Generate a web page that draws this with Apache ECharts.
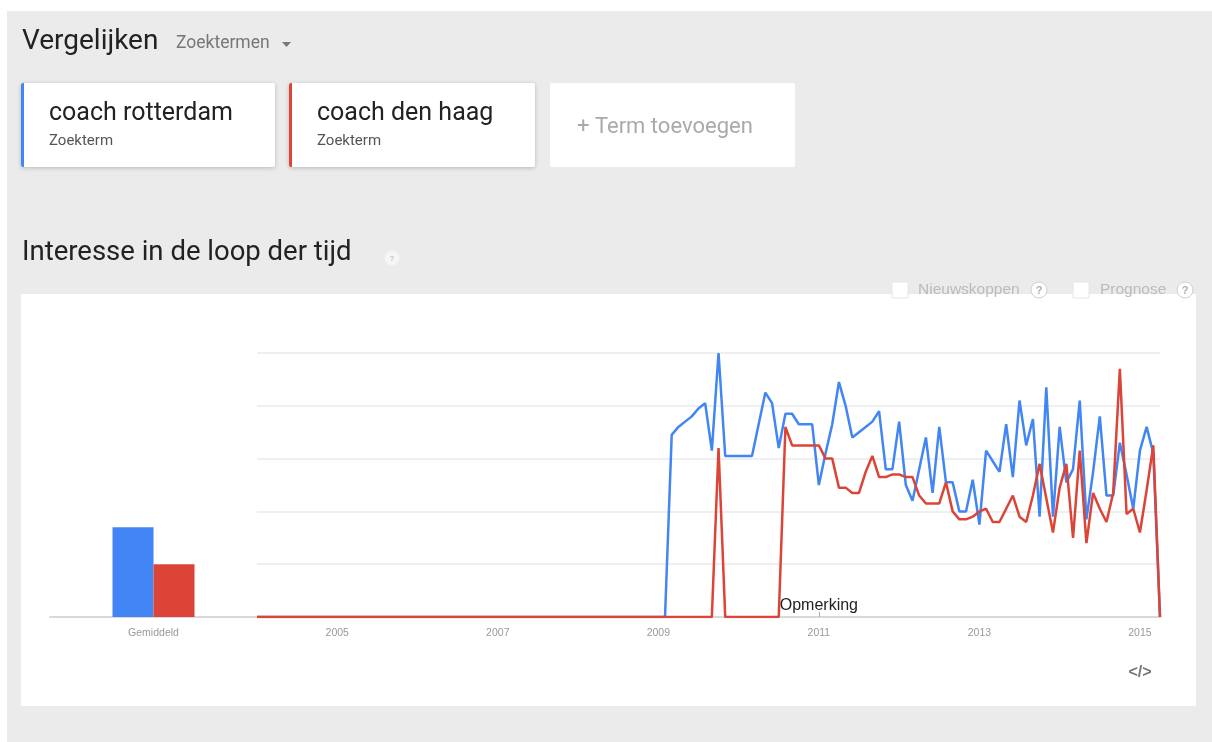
<!DOCTYPE html>
<html>
<head>
<meta charset="utf-8">
<script src="https://cdn.jsdelivr.net/npm/echarts@6/dist/echarts.min.js"></script>
<style>
  html, body { margin: 0; padding: 0; background: #fff; }
  #chart { width: 1212px; height: 742px; }
</style>
</head>
<body>
<div id="chart"></div>
<script>
// monthly interest, Jan 2004 .. Apr 2015
const startYear = 2004;
const yearLabels = ['2005', '2007', '2009', '2011', '2013', '2015'];
const noteMonth = '2011-01';
const noteText = 'Opmerking';

const termNames = ['coach rotterdam', 'coach den haag'];
const avgCategory = ['Gemiddeld'];
const avgRotterdam = [34];
const avgDenHaag = [20];

const rotterdam = [
  0, 0, 0, 0, 0, 0, 0, 0, 0, 0, 0, 0,
  0, 0, 0, 0, 0, 0, 0, 0, 0, 0, 0, 0,
  0, 0, 0, 0, 0, 0, 0, 0, 0, 0, 0, 0,
  0, 0, 0, 0, 0, 0, 0, 0, 0, 0, 0, 0,
  0, 0, 0, 0, 0, 0, 0, 0, 0, 0, 0, 0,
  0, 0, 69, 72, 74, 76, 79, 81, 63, 100, 61, 61,
  61, 61, 61, 73, 85, 81, 64, 77, 77, 73, 73, 73,
  50, 62, 73, 89, 80, 68, 70, 72, 74, 78, 56, 56,
  74, 50, 44, 56, 68, 47, 72, 51, 51, 40, 40, 52,
  35, 63, 59, 55, 73, 53, 82, 65, 75, 38, 87, 38,
  72, 51, 56, 82, 37, 55, 76, 46, 46, 66, 54, 41,
  63, 72, 62, 0
];

const denHaag = [
  0, 0, 0, 0, 0, 0, 0, 0, 0, 0, 0, 0,
  0, 0, 0, 0, 0, 0, 0, 0, 0, 0, 0, 0,
  0, 0, 0, 0, 0, 0, 0, 0, 0, 0, 0, 0,
  0, 0, 0, 0, 0, 0, 0, 0, 0, 0, 0, 0,
  0, 0, 0, 0, 0, 0, 0, 0, 0, 0, 0, 0,
  0, 0, 0, 0, 0, 0, 0, 0, 0, 64, 0, 0,
  0, 0, 0, 0, 0, 0, 0, 72, 65, 65, 65, 65,
  65, 60, 60, 49, 49, 47, 47, 55, 61, 53, 53, 54,
  54, 53, 53, 46, 43, 43, 43, 51, 40, 37, 37, 38,
  40, 41, 36, 36, 41, 46, 38, 36, 46, 58, 45, 32,
  49, 58, 30, 63, 28, 47, 41, 36, 47, 94, 39, 41,
  32, 48, 65, 0
];

const months = [];
for (let i = 0; i < rotterdam.length; i++) {
  const y = startYear + Math.floor(i / 12);
  months.push(y + '-' + String((i % 12) + 1).padStart(2, '0'));
}

const BLUE = '#4285f4';
const RED = '#db4437';
const UI_FONT = 'Roboto, "Noto Sans", sans-serif';
const AXIS_FONT = 'Arial, "Liberation Sans", sans-serif';

function txt(text, x, y, size, color, extra) {
  return {
    type: 'text', z: 50,
    style: Object.assign({
      text: text, x: x, y: y,
      font: size + 'px ' + UI_FONT,
      fill: color,
      textAlign: 'left', textVerticalAlign: 'middle', verticalAlign: 'middle'
    }, extra || {})
  };
}

function card(x, w, stripe, shadow) {
  const items = [{
    type: 'rect', z: -5,
    shape: { x: x, y: 83, width: w, height: 84, r: 2 },
    style: shadow
      ? { fill: '#fff', shadowBlur: 4, shadowColor: 'rgba(0,0,0,0.22)', shadowOffsetY: 1 }
      : { fill: '#fff' }
  }];
  if (stripe) {
    items.push({
      type: 'rect', z: -4,
      shape: { x: x, y: 83, width: 3, height: 84, r: [2, 0, 0, 2] },
      style: { fill: stripe }
    });
  }
  return items;
}

function help(cx, cy, r, fill, stroke, qColor, size) {
  return [
    { type: 'circle', z: 40, shape: { cx: cx, cy: cy, r: r },
      style: { fill: fill, stroke: stroke, lineWidth: 1 } },
    txt('?', cx, cy + 0.5, size, qColor,
      { textAlign: 'center', font: 'bold ' + size + 'px ' + AXIS_FONT })
  ];
}

const graphics = [].concat(
  [
    { type: 'rect', z: -20, shape: { x: 7, y: 11, width: 1205, height: 731 }, style: { fill: '#ebebeb' } },
    { type: 'rect', z: -10, shape: { x: 21, y: 294, width: 1175, height: 412 }, style: { fill: '#fff' } }
  ],
  txt('Vergelijken', 22, 42, 28, '#222'),
  txt('Zoektermen', 176, 44, 17.5, '#777'),
  { type: 'polygon', z: 50, shape: { points: [[282, 42], [291, 42], [286.5, 47]] }, style: { fill: '#777' } },
  card(21, 254, BLUE, true),
  card(289, 246, RED, true),
  card(550, 245, null, false),
  txt(termNames[0], 49, 114, 25, '#222'),
  txt('Zoekterm', 49, 141, 15, '#555'),
  txt(termNames[1], 317, 114, 25, '#222'),
  txt('Zoekterm', 317, 141, 15, '#555'),
  txt('+ Term toevoegen', 577, 127, 22, '#aaa'),
  txt('Interesse in de loop der tijd', 22, 253, 27.5, '#222'),
  help(392, 258, 7, '#f6f6f6', '#f6f6f6', '#c4c4c4', 8),
  { type: 'rect', z: 40, shape: { x: 892, y: 282, width: 16, height: 16 }, style: { fill: '#fff', stroke: '#e6e6e6', lineWidth: 1 } },
  txt('Nieuwskoppen', 918, 290, 15.5, '#bbb', { font: '15.5px ' + AXIS_FONT }),
  help(1039, 290, 8, '#fff', '#d0d0d0', '#b0b0b0', 11),
  { type: 'rect', z: 40, shape: { x: 1073, y: 282, width: 16, height: 16 }, style: { fill: '#fff', stroke: '#e6e6e6', lineWidth: 1 } },
  txt('Prognose', 1100, 290, 15.5, '#bbb', { font: '15.5px ' + AXIS_FONT }),
  help(1185, 290, 8, '#fff', '#d0d0d0', '#b0b0b0', 11),
  txt('</>', 1140, 673, 16, '#777', { textAlign: 'center', font: 'bold 16px ' + AXIS_FONT })
);

const chart = echarts.init(document.getElementById('chart'), null, { renderer: 'canvas' });

chart.setOption({
  backgroundColor: '#fff',
  animation: false,
  graphic: graphics,
  grid: [
    { left: 50, width: 207, top: 353, bottom: 125, containLabel: false },
    { left: 257, right: 52, top: 353, bottom: 125, containLabel: false }
  ],
  xAxis: [
    {
      gridIndex: 0, type: 'category', data: avgCategory,
      axisLine: { lineStyle: { color: '#d9d9d9', width: 2 } },
      axisTick: { show: false },
      axisLabel: { color: '#999', fontSize: 10.5, fontFamily: AXIS_FONT, margin: 11 }
    },
    {
      gridIndex: 1, type: 'category', data: months, boundaryGap: false,
      axisLine: { lineStyle: { color: '#d9d9d9', width: 2 } },
      axisTick: {
        show: true, inside: true, length: 5,
        interval: (idx, val) => val === noteMonth,
        lineStyle: { color: '#aaa', width: 1 }
      },
      axisLabel: {
        color: '#999', fontSize: 10.5, fontFamily: AXIS_FONT, margin: 11,
        interval: (idx, val) => val.endsWith('-01') && yearLabels.includes(val.slice(0, 4)),
        formatter: (val) => val.slice(0, 4)
      },
      splitLine: { show: false }
    }
  ],
  yAxis: [
    {
      gridIndex: 0, type: 'value', min: 0, max: 100, interval: 20, show: false,
      splitLine: { show: false }
    },
    {
      gridIndex: 1, type: 'value', min: 0, max: 100, interval: 20,
      axisLine: { show: false }, axisTick: { show: false }, axisLabel: { show: false },
      splitLine: { lineStyle: { color: '#efefef', width: 2 } }
    }
  ],
  series: [
    {
      name: termNames[0], type: 'bar', xAxisIndex: 0, yAxisIndex: 0,
      data: avgRotterdam, barWidth: 41, barGap: '0%',
      itemStyle: { color: BLUE }
    },
    {
      name: termNames[1], type: 'bar', xAxisIndex: 0, yAxisIndex: 0,
      data: avgDenHaag, barWidth: 41, barGap: '0%',
      itemStyle: { color: RED }
    },
    {
      name: termNames[0], type: 'line', xAxisIndex: 1, yAxisIndex: 1,
      data: rotterdam, showSymbol: false, symbol: 'none',
      lineStyle: { color: BLUE, width: 2.5 }, itemStyle: { color: BLUE }
    },
    {
      name: termNames[1], type: 'line', xAxisIndex: 1, yAxisIndex: 1,
      data: denHaag, showSymbol: false, symbol: 'none',
      lineStyle: { color: RED, width: 2.5 }, itemStyle: { color: RED },
      markPoint: {
        symbol: 'circle', symbolSize: 0,
        data: [{ coord: [noteMonth, 0], value: noteText }],
        label: {
          show: true, position: 'top', distance: 3,
          formatter: noteText,
          color: '#222', fontSize: 16, fontFamily: AXIS_FONT
        }
      }
    }
  ]
});
</script>
</body>
</html>
